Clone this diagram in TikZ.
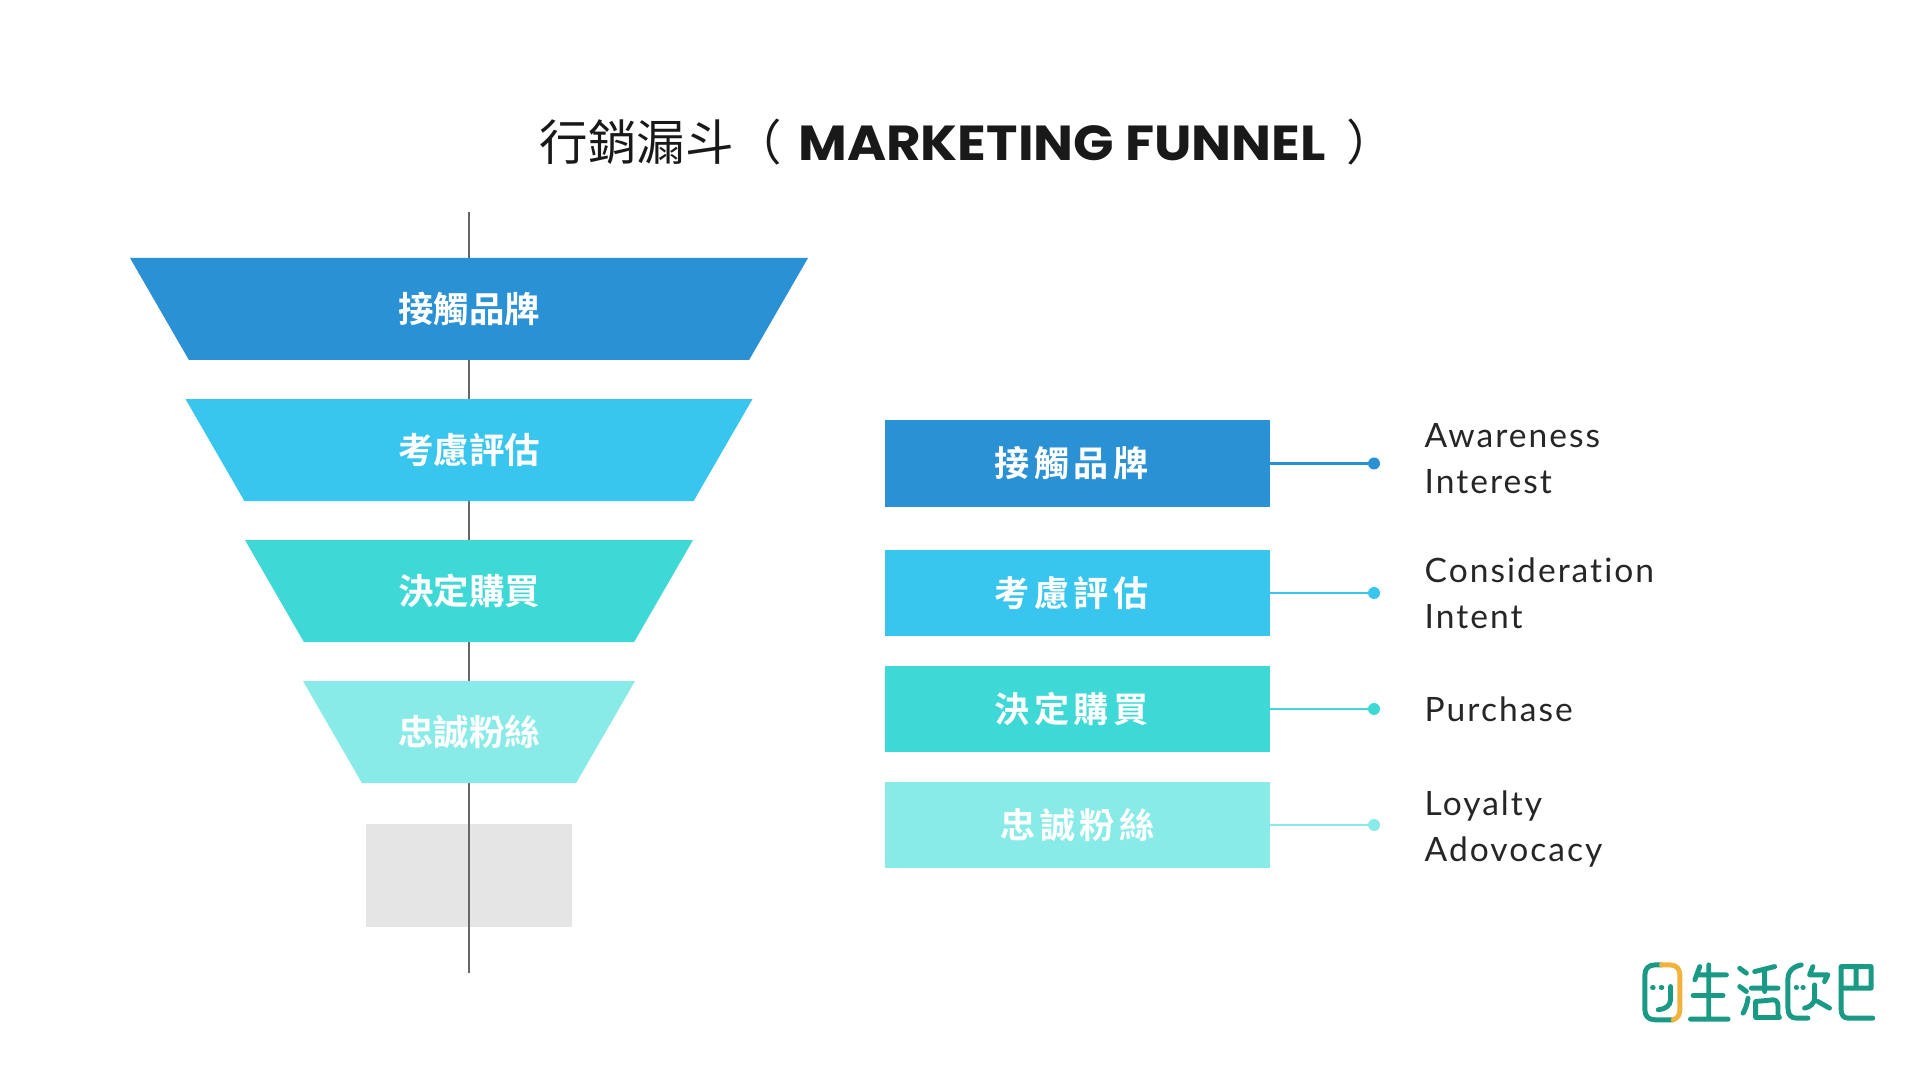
\documentclass[tikz,border=0pt]{standalone}
\usepackage{fontspec}
\usepackage{xcolor}
\usetikzlibrary{positioning,shapes.geometric}
\setmainfont[LetterSpace=6,Ligatures=NoCommon]{Lato}
\newfontfamily\cjklight{Noto Sans CJK TC}
\newfontfamily\cjkbold{Noto Sans CJK TC Bold}
\newfontfamily\cjkspaced[LetterSpace=13]{Noto Sans CJK TC Bold}
\newfontfamily\titlefont[FakeStretch=1.08]{Poppins Bold}
\definecolor{tierone}{HTML}{2B91D5}
\definecolor{tiertwo}{HTML}{38C6EE}
\definecolor{tierthree}{HTML}{3ED9D6}
\definecolor{tierfour}{HTML}{89EBE8}
\definecolor{logoteal}{HTML}{1A9A85}
\definecolor{logoamber}{HTML}{F2B33D}
\tikzset{
  funnel/.style={trapezium, shape border rotate=180, trapezium angle=60, trapezium stretches body=true,
    text height=3.5mm, text depth=.8mm, inner ysep=2.95mm, inner xsep=0pt, outer sep=0pt, text=white,
    font=\cjkbold\fontsize{10.1}{12}\selectfont},
  tierbox/.style={rectangle, minimum width=3.85cm, minimum height=.865cm, inner sep=0pt, outer sep=0pt,
    text=white, font=\cjkspaced\fontsize{10}{12}\selectfont},
  tierdot/.style={circle, minimum size=.12cm, inner sep=0pt, outer sep=0pt},
  tiernote/.style={align=left, anchor=west, inner sep=0pt, text=black!85,
    font=\fontsize{9.55}{13.1}\selectfont},
  logostroke/.style={line width=1.4pt, line cap=round, line join=round, draw=logoteal}
}
\begin{document}
\begin{tikzpicture}
  \useasboundingbox (0,0) rectangle (19.2,10.8);
  % funnel on the left
  \node (base) [fill=black!10, minimum width=2.06cm, minimum height=1.03cm, inner sep=0pt] at (4.69,2.045) {};
  \coordinate (axistop) at (4.69,8.68);
  \coordinate (axisbottom) at (4.69,1.07);
  \draw[black!60, line width=.45pt] (axistop) -- (axisbottom);
  \node (funA) [funnel, fill=tierone, minimum width=6.78cm] at (4.69,7.71) {接觸品牌};
  \node (funB) [funnel, fill=tiertwo, minimum width=5.67cm, below=.39 of funA] {考慮評估};
  \node (funC) [funnel, fill=tierthree, minimum width=4.48cm, below=.39 of funB] {決定購買};
  \node (funD) [funnel, fill=tierfour, minimum width=3.32cm, below=.39 of funC] {忠誠粉絲};
  % boxes on the right
  \node (boxA) [tierbox, fill=tierone] at (10.775,6.165) {接觸品牌\kern1.2mm};
  \node (boxB) [tierbox, fill=tiertwo] at (10.775,4.87) {考慮評估\kern1.2mm};
  \node (boxC) [tierbox, fill=tierthree] at (10.775,3.71) {決定購買\kern1.2mm};
  \node (boxD) [tierbox, fill=tierfour] at (10.775,2.55) {忠誠粉絲};
  \foreach \tier/\tiercolor in {A/tierone,B/tiertwo,C/tierthree,D/tierfour} {
    \node (dot\tier) [tierdot, fill=\tiercolor, right=.98 of box\tier] {};
    \draw[\tiercolor, line width=.6pt] (box\tier.east) -- (dot\tier);
  }
  \node (noteA) [tiernote] at (14.24,6.21) {Awareness\\Interest};
  \node (noteB) [tiernote] at (14.24,4.87) {Consideration\\Intent};
  \node (noteC) [tiernote] at (14.24,3.71) {Purchase};
  \node (noteD) [tiernote] at (14.24,2.51) {Loyalty\\Adovocacy};
  % title
  \node (title) [anchor=west, inner sep=0pt, text=black!90] at (5.39,9.38)
    {\fontsize{13.8}{16}\selectfont\cjklight 行銷漏斗（\kern1.6mm{\titlefont\fontsize{14}{16}\selectfont MARKETING FUNNEL}\kern2.1mm）};
  % logo
  \begin{scope}[shift={(16,1.5)}, x=.003333cm, y=-.003333cm]
    \draw[logostroke] (220,270) -- (165,270) .. controls (145,270) and (135,258) .. (135,240) -- (135,135)
      .. controls (135,117) and (145,105) .. (165,105) -- (185,105);
    \draw[logostroke, draw=logoamber] (185,105) -- (210,105) .. controls (230,105) and (240,117) .. (240,135)
      -- (240,240) .. controls (240,255) and (233,265) .. (220,270);
    \draw[logostroke] (158,173) -- (160,173) (184,173) -- (186,173);
    \draw[logostroke] (212,170) -- (212,210) .. controls (212,228) and (195,238) .. (175,240);
    \draw[logostroke] (300,110) -- (285,150) (295,135) -- (380,135) (327,105) -- (327,268)
      (280,197) -- (370,197) (272,268) -- (385,268);
    \draw[logostroke] (420,115) -- (440,130) (420,170) -- (440,185)
      (445,205) .. controls (442,225) and (437,238) .. (430,250);
    \draw[logostroke] (525,110) -- (465,125) (455,175) -- (535,175) (495,125) -- (495,185)
      (468,263) -- (468,215) -- (520,210) .. controls (530,210) and (535,218) .. (535,228) -- (535,255)
      .. controls (535,260) and (540,263) .. (540,263) -- (468,263);
    \draw[logostroke] (605,105) .. controls (580,110) and (565,125) .. (565,145) -- (565,235)
      .. controls (565,255) and (575,265) .. (590,265) -- (625,265);
    \draw[logostroke] (590,173) -- (591,173) (610,173) -- (611,173);
    \draw[logostroke] (640,110) -- (630,135) -- (685,135) -- (675,155)
      (645,165) -- (645,205) .. controls (645,220) and (632,232) .. (615,235)
      (655,215) -- (690,235);
    \draw[logostroke] (815,110) -- (725,110) -- (725,240) .. controls (725,255) and (733,265) .. (745,265) -- (820,265)
      (815,110) -- (815,175) -- (725,175) (770,110) -- (770,175);
  \end{scope}
\end{tikzpicture}
\end{document}
